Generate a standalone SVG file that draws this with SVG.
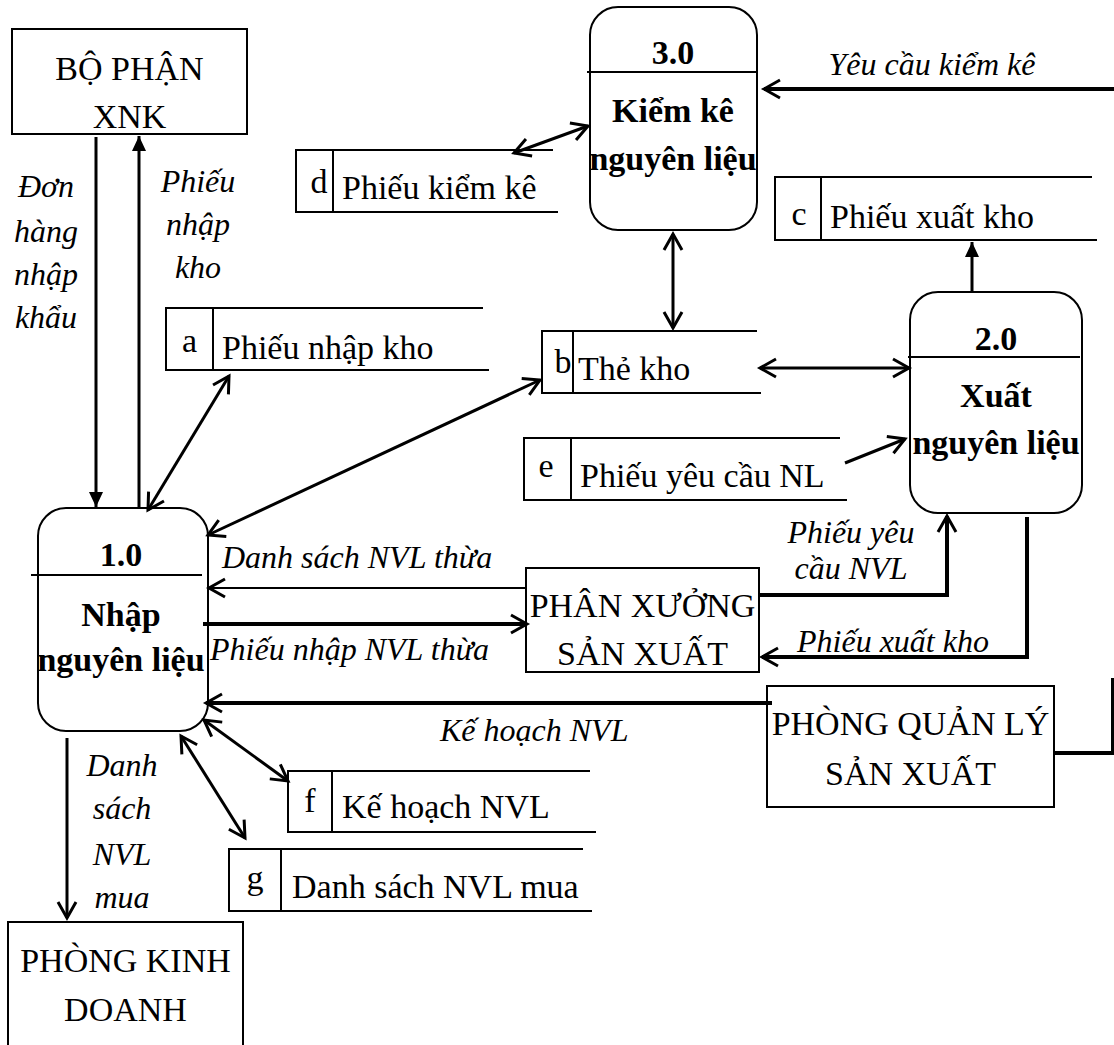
<svg xmlns="http://www.w3.org/2000/svg" width="1114" height="1045" viewBox="0 0 1114 1045" font-family="'Liberation Serif', 'Times New Roman', 'DejaVu Serif', serif">
  <style>
    .ent { fill: #fff; stroke: #000; stroke-width: 2; }
    .proc { fill: #fff; stroke: #000; stroke-width: 2; }
    .st { fill: none; stroke: #000; stroke-width: 2; }
    .flow { fill: none; stroke: #000; stroke-width: 3; }
    .thick { stroke-width: 4; }
    .thin { stroke-width: 2; }
    text { font-family: 'Liberation Serif', 'Times New Roman', 'DejaVu Serif', serif; fill: #000; }
    .t { font-size: 34px; }
    .b { font-size: 34px; font-weight: bold; }
    .i { font-size: 32px; font-style: italic; }
    .m { text-anchor: middle; }
  </style>
  <defs>
    <marker id="open" viewBox="-20 -12 24 24" refX="0" refY="0" markerWidth="24" markerHeight="24" markerUnits="userSpaceOnUse" orient="auto-start-reverse">
      <path d="M-16,-9 L0,0 L-16,9" fill="none" stroke="#000" stroke-width="3"/>
    </marker>
    <marker id="solid" viewBox="-16 -8 18 16" refX="0" refY="0" markerWidth="18" markerHeight="16" markerUnits="userSpaceOnUse" orient="auto">
      <path d="M-15,-7 L0,0 L-15,7 z" fill="#000"/>
    </marker>
  </defs>

  <rect width="1114" height="1045" fill="#fff"/>

  <!-- external entities -->
  <g id="ext-xnk">
    <rect class="ent" x="12" y="29" width="235" height="105"/>
    <text class="t m" x="129.5" y="80">BỘ PHẬN</text>
    <text class="t m" x="129.5" y="128">XNK</text>
  </g>
  <g id="ext-kinh-doanh">
    <rect class="ent" x="8" y="922" width="235" height="140"/>
    <text class="t m" x="125.5" y="972">PHÒNG KINH</text>
    <text class="t m" x="125.5" y="1021">DOANH</text>
  </g>
  <g id="ext-phan-xuong">
    <rect class="ent" x="526" y="568" width="233" height="104"/>
    <text class="t m" x="642.5" y="617">PHÂN XƯỞNG</text>
    <text class="t m" x="642.5" y="665">SẢN XUẤT</text>
  </g>
  <g id="ext-quan-ly-sx">
    <rect class="ent" x="767" y="686" width="287" height="121"/>
    <text class="t m" x="910.5" y="735">PHÒNG QUẢN LÝ</text>
    <text class="t m" x="910.5" y="785">SẢN XUẤT</text>
  </g>

  <!-- processes -->
  <g id="proc-1">
    <rect class="proc" x="38" y="508" width="170" height="223" rx="28" ry="28"/>
    <line class="st" x1="31" y1="575" x2="202" y2="575"/>
    <text class="b m" x="121" y="566">1.0</text>
    <text class="b m" x="121" y="626">Nhập</text>
    <text class="b m" x="121" y="671">nguyên liệu</text>
  </g>
  <g id="proc-3">
    <rect class="proc" x="590" y="7" width="167" height="223" rx="28" ry="28"/>
    <line class="st" x1="587" y1="72" x2="756" y2="72"/>
    <text class="b m" x="673" y="64">3.0</text>
    <text class="b m" x="673" y="122">Kiểm kê</text>
    <text class="b m" x="673" y="170">nguyên liệu</text>
  </g>
  <g id="proc-2">
    <rect class="proc" x="910" y="292" width="172" height="221" rx="28" ry="28"/>
    <line class="st" x1="908" y1="357" x2="1080" y2="357"/>
    <text class="b m" x="996" y="350">2.0</text>
    <text class="b m" x="996" y="407">Xuất</text>
    <text class="b m" x="996" y="454">nguyên liệu</text>
  </g>

  <!-- data stores -->
  <g id="store-a">
    <path class="st" d="M483,308 H166 V370 H489 M213,308 V370"/>
    <text class="t m" x="189.5" y="352">a</text>
    <text class="t" x="222" y="359">Phiếu nhập kho</text>
  </g>
  <g id="store-b">
    <path class="st" d="M757,331 H542 V393 H761 M573,331 V393"/>
    <text class="t m" x="563" y="373">b</text>
    <text class="t" x="578" y="380">Thẻ kho</text>
  </g>
  <g id="store-c">
    <path class="st" d="M1092,177 H775 V240 H1097 M821,177 V240"/>
    <text class="t m" x="799" y="225">c</text>
    <text class="t" x="830" y="228">Phiếu xuất kho</text>
  </g>
  <g id="store-d">
    <path class="st" d="M553,150 H296 V212 H558 M333,150 V212"/>
    <text class="t m" x="319" y="193">d</text>
    <text class="t" x="342" y="199">Phiếu kiểm kê</text>
  </g>
  <g id="store-e">
    <path class="st" d="M840,438 H524 V500 H847 M571,438 V500"/>
    <text class="t m" x="546" y="477">e</text>
    <text class="t" x="580" y="487">Phiếu yêu cầu NL</text>
  </g>
  <g id="store-f">
    <path class="st" d="M590,771 H288 V832 H596 M332,771 V832"/>
    <text class="t m" x="310" y="812">f</text>
    <text class="t" x="342" y="818">Kế hoạch NVL</text>
  </g>
  <g id="store-g">
    <path class="st" d="M583,849 H229 V911 H592 M281,849 V911"/>
    <text class="t m" x="255" y="889">g</text>
    <text class="t" x="292" y="898">Danh sách NVL mua</text>
  </g>

  <!-- data flows -->
  <g id="flows">
    <line class="flow" x1="96" y1="137" x2="96" y2="507" marker-end="url(#solid)"/>
    <line class="flow" x1="139" y1="509" x2="139" y2="136" marker-end="url(#solid)"/>
    <line class="flow" x1="148" y1="510" x2="229" y2="376" marker-start="url(#open)" marker-end="url(#open)"/>
    <line class="flow" x1="208" y1="535" x2="540" y2="380" marker-start="url(#open)" marker-end="url(#open)"/>
    <line class="flow" x1="514" y1="153" x2="588" y2="126" stroke-width="2.5" marker-start="url(#open)" marker-end="url(#open)"/>
    <line class="flow" x1="673" y1="234" x2="673" y2="328" marker-start="url(#open)" marker-end="url(#open)"/>
    <line class="flow" x1="760" y1="368" x2="909" y2="368" marker-start="url(#open)" marker-end="url(#open)"/>
    <line class="flow" x1="845" y1="463" x2="905" y2="439" marker-end="url(#open)"/>
    <line class="flow" x1="972" y1="292" x2="972" y2="242" stroke-width="2.5" marker-end="url(#solid)"/>
    <line class="flow thick" x1="1114" y1="89" x2="764" y2="89" marker-end="url(#open)"/>
    <line class="flow thin" x1="527" y1="588" x2="209" y2="588" marker-end="url(#open)"/>
    <line class="flow thick" x1="203" y1="624" x2="527" y2="624" marker-end="url(#open)"/>
    <line class="flow thick" x1="772" y1="703" x2="206" y2="703" marker-end="url(#open)"/>
    <path class="flow thick" d="M759,595 H947 V516" marker-end="url(#open)"/>
    <path class="flow thick" d="M1027,517 V657 H762" marker-end="url(#open)"/>
    <path class="flow thick" d="M1054,753 H1113 V678"/>
    <line class="flow" x1="204" y1="720" x2="288" y2="781" marker-start="url(#open)" marker-end="url(#open)"/>
    <line class="flow" x1="181" y1="736" x2="245" y2="838" marker-start="url(#open)" marker-end="url(#open)"/>
    <line class="flow" x1="67" y1="738" x2="67" y2="918" marker-end="url(#open)"/>
  </g>

  <!-- flow labels -->
  <g id="flow-labels">
    <text class="i m" x="46" y="197">Đơn</text>
    <text class="i m" x="46" y="242">hàng</text>
    <text class="i m" x="46" y="285">nhập</text>
    <text class="i m" x="46" y="328">khẩu</text>
    <text class="i m" x="198" y="192">Phiếu</text>
    <text class="i m" x="198" y="235">nhập</text>
    <text class="i m" x="198" y="278">kho</text>
    <text class="i m" x="932" y="75">Yêu cầu kiểm kê</text>
    <text class="i" x="222" y="568">Danh sách NVL thừa</text>
    <text class="i" x="210" y="660">Phiếu nhập NVL thừa</text>
    <text class="i" x="440" y="741">Kế hoạch NVL</text>
    <text class="i m" x="851" y="543">Phiếu yêu</text>
    <text class="i m" x="851" y="579">cầu NVL</text>
    <text class="i" x="797" y="652">Phiếu xuất kho</text>
    <text class="i m" x="122" y="776">Danh</text>
    <text class="i m" x="122" y="819">sách</text>
    <text class="i m" x="122" y="865">NVL</text>
    <text class="i m" x="122" y="908">mua</text>
  </g>
</svg>
